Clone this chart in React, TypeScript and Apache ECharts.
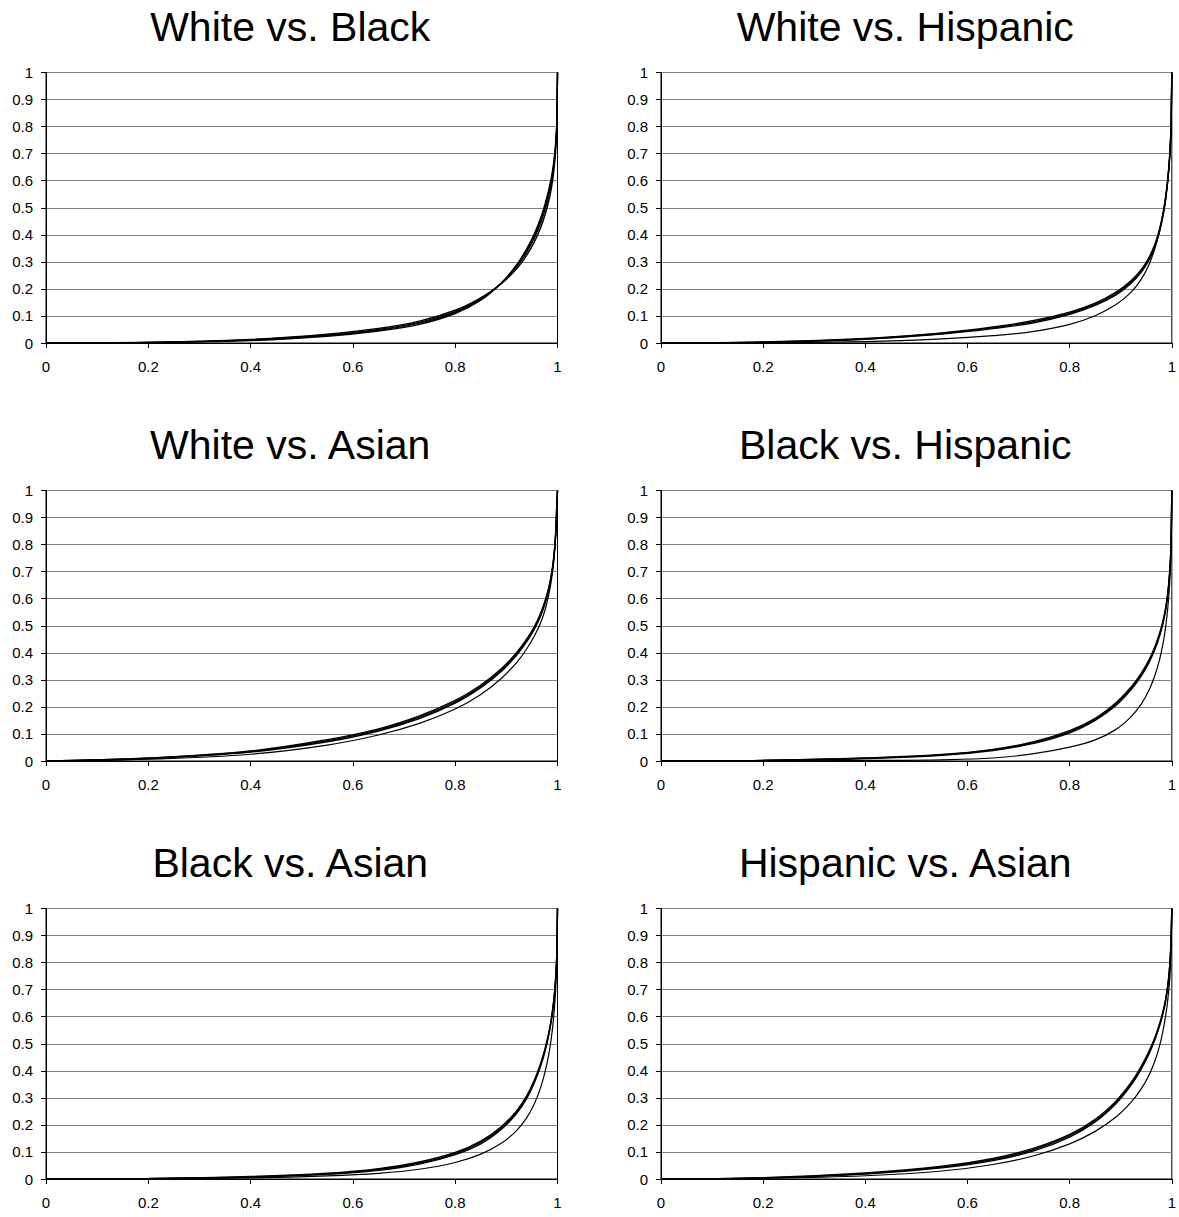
import React, { useEffect, useRef } from "react";
import * as echarts from "echarts";

// shared x positions (share of population), denser near 1 where the curves bend
const XS = [0, 0.2, 0.4, 0.55, 0.65, 0.73, 0.8, 0.85, 0.89, 0.92, 0.94, 0.955, 0.967, 0.976, 0.983, 0.988, 0.992, 0.995, 0.997, 0.9985, 1];
const X_TICKS = [0, 0.2, 0.4, 0.6, 0.8, 1];
const Y_TICKS = [0, 0.1, 0.2, 0.3, 0.4, 0.5, 0.6, 0.7, 0.8, 0.9, 1];

const TITLES = [
  "White vs. Black",
  "White vs. Hispanic",
  "White vs. Asian",
  "Black vs. Hispanic",
  "Black vs. Asian",
  "Hispanic vs. Asian",
];

// White vs. Black
const wb1 = [0, 0.0025, 0.0135, 0.033, 0.054, 0.081, 0.121, 0.167, 0.219, 0.274, 0.325, 0.375, 0.426, 0.476, 0.526, 0.572, 0.622, 0.678, 0.732, 0.792, 1];
const wb2 = [0, 0.002, 0.012, 0.03, 0.05, 0.076, 0.116, 0.163, 0.22, 0.281, 0.336, 0.389, 0.443, 0.495, 0.546, 0.591, 0.64, 0.693, 0.744, 0.801, 1];
const wb3 = [0, 0.0012, 0.009, 0.025, 0.044, 0.069, 0.109, 0.158, 0.222, 0.289, 0.349, 0.405, 0.462, 0.516, 0.568, 0.612, 0.66, 0.71, 0.758, 0.81, 1];
const wb4 = [0, 0.0018, 0.011, 0.028, 0.047, 0.073, 0.113, 0.161, 0.221, 0.285, 0.342, 0.397, 0.452, 0.505, 0.556, 0.6, 0.649, 0.7, 0.75, 0.805, 1];

// White vs. Hispanic
const wh1 = [0, 0.0035, 0.0165, 0.037, 0.059, 0.083, 0.114, 0.147, 0.187, 0.23, 0.271, 0.315, 0.366, 0.422, 0.483, 0.543, 0.607, 0.672, 0.734, 0.805, 1];
const wh2 = [0, 0.003, 0.015, 0.035, 0.056, 0.079, 0.11, 0.143, 0.182, 0.225, 0.266, 0.31, 0.361, 0.417, 0.478, 0.538, 0.603, 0.668, 0.73, 0.802, 1];
const wh3 = [0, 0.0025, 0.0135, 0.033, 0.053, 0.075, 0.106, 0.139, 0.177, 0.22, 0.261, 0.305, 0.356, 0.412, 0.473, 0.533, 0.599, 0.664, 0.726, 0.799, 1];
const wh4 = [0, 0.001, 0.005, 0.015, 0.027, 0.043, 0.069, 0.101, 0.141, 0.187, 0.235, 0.288, 0.351, 0.414, 0.474, 0.533, 0.598, 0.664, 0.727, 0.8, 1];

// White vs. Asian
const wa1 = [0, 0.011, 0.037, 0.079, 0.119, 0.167, 0.224, 0.281, 0.341, 0.401, 0.451, 0.498, 0.546, 0.594, 0.642, 0.689, 0.742, 0.802, 0.864, 0.938, 1];
const wa2 = [0, 0.01, 0.035, 0.075, 0.115, 0.162, 0.219, 0.276, 0.336, 0.396, 0.446, 0.493, 0.541, 0.589, 0.638, 0.685, 0.738, 0.799, 0.861, 0.936, 1];
const wa3 = [0, 0.009, 0.033, 0.071, 0.111, 0.157, 0.214, 0.271, 0.331, 0.391, 0.441, 0.488, 0.536, 0.584, 0.633, 0.681, 0.734, 0.796, 0.858, 0.934, 1];
const wa4 = [0, 0.007, 0.025, 0.059, 0.096, 0.139, 0.192, 0.246, 0.305, 0.364, 0.415, 0.463, 0.511, 0.561, 0.615, 0.668, 0.726, 0.789, 0.851, 0.929, 1];

// Black vs. Hispanic
const bh1 = [0, 0.0023, 0.011, 0.024, 0.043, 0.071, 0.112, 0.158, 0.214, 0.273, 0.324, 0.373, 0.423, 0.472, 0.521, 0.567, 0.62, 0.678, 0.736, 0.801, 1];
const bh2 = [0, 0.002, 0.01, 0.0225, 0.041, 0.068, 0.108, 0.154, 0.209, 0.268, 0.319, 0.368, 0.418, 0.467, 0.516, 0.563, 0.616, 0.675, 0.733, 0.799, 1];
const bh3 = [0, 0.0017, 0.009, 0.021, 0.039, 0.065, 0.104, 0.15, 0.204, 0.263, 0.314, 0.363, 0.413, 0.462, 0.511, 0.559, 0.612, 0.672, 0.73, 0.797, 1];
const bh4 = [0, 0.0003, 0.002, 0.0045, 0.011, 0.027, 0.051, 0.078, 0.116, 0.163, 0.21, 0.261, 0.317, 0.375, 0.437, 0.497, 0.564, 0.635, 0.703, 0.79, 1];

// Black vs. Asian
const ba1 = [0, 0.0017, 0.009, 0.021, 0.038, 0.063, 0.098, 0.14, 0.193, 0.252, 0.308, 0.367, 0.427, 0.485, 0.541, 0.594, 0.649, 0.706, 0.762, 0.824, 1];
const ba2 = [0, 0.0015, 0.008, 0.019, 0.035, 0.059, 0.094, 0.135, 0.188, 0.247, 0.303, 0.362, 0.422, 0.48, 0.537, 0.59, 0.646, 0.703, 0.759, 0.822, 1];
const ba3 = [0, 0.0013, 0.007, 0.017, 0.032, 0.055, 0.09, 0.13, 0.183, 0.242, 0.298, 0.357, 0.417, 0.475, 0.533, 0.586, 0.643, 0.7, 0.756, 0.82, 1];
const ba4 = [0, 0.0007, 0.004, 0.0115, 0.021, 0.036, 0.061, 0.092, 0.132, 0.179, 0.227, 0.279, 0.338, 0.399, 0.462, 0.522, 0.589, 0.656, 0.723, 0.804, 1];

// Hispanic vs. Asian
const ha1 = [0, 0.0045, 0.022, 0.047, 0.076, 0.114, 0.165, 0.221, 0.287, 0.356, 0.416, 0.471, 0.524, 0.574, 0.622, 0.667, 0.715, 0.768, 0.82, 0.886, 1];
const ha2 = [0, 0.004, 0.02, 0.044, 0.072, 0.109, 0.16, 0.216, 0.282, 0.351, 0.411, 0.466, 0.52, 0.57, 0.618, 0.663, 0.712, 0.765, 0.818, 0.884, 1];
const ha3 = [0, 0.0036, 0.018, 0.041, 0.068, 0.104, 0.155, 0.211, 0.277, 0.346, 0.406, 0.461, 0.516, 0.566, 0.614, 0.659, 0.709, 0.762, 0.816, 0.882, 1];
const ha4 = [0, 0.0025, 0.012, 0.0295, 0.0535, 0.086, 0.13, 0.176, 0.228, 0.283, 0.333, 0.383, 0.437, 0.492, 0.551, 0.605, 0.661, 0.718, 0.774, 0.84, 1];

const PANELS = [
  [wb1, wb2, wb3, wb4],
  [wh1, wh2, wh3, wh4],
  [wa1, wa2, wa3, wa4],
  [bh1, bh2, bh3, bh4],
  [ba1, ba2, ba3, ba4],
  [ha1, ha2, ha3, ha4],
];

const FONT = "'Liberation Sans', Arial, sans-serif";
const COL_LEFT = [46, 661];
const ROW_TOP = [72.5, 490.5, 908.5];
const PW = 511.5;
const PH = 270.5;

export default function App() {
  const ref = useRef<HTMLDivElement>(null);
  useEffect(() => {
    if (!ref.current) return;
    const chart = echarts.init(ref.current, undefined, { renderer: "svg" });
    const grids: any[] = [];
    const xAxes: any[] = [];
    const yAxes: any[] = [];
    const series: any[] = [];
    const graphics: any[] = [];
    PANELS.forEach((curves, i) => {
      const col = i % 2;
      const row = Math.floor(i / 2);
      const left = COL_LEFT[col];
      const top = ROW_TOP[row];
      grids.push({
        left,
        top,
        width: PW,
        height: PH,
        show: true,
        borderColor: "#000",
        borderWidth: 1,
        backgroundColor: "transparent",
      });
      xAxes.push({
        type: "value",
        gridIndex: i,
        min: 0,
        max: 1,
        interval: 0.2,
        axisLine: { show: true, lineStyle: { color: "#000", width: 1 } },
        axisTick: { show: true, length: 5, lineStyle: { color: "#000" } },
        splitLine: { show: false },
        axisLabel: {
          color: "#000",
          fontSize: 15,
          fontFamily: FONT,
          margin: 16,
          formatter: (v: number) => {
            const r = Math.round(v * 10) / 10;
            return X_TICKS.includes(r) ? String(r) : "";
          },
        },
      });
      yAxes.push({
        type: "value",
        gridIndex: i,
        min: 0,
        max: 1,
        interval: 0.1,
        axisLine: { show: true, lineStyle: { color: "#000", width: 1 } },
        axisTick: { show: true, length: 5, lineStyle: { color: "#000" } },
        splitLine: { show: true, lineStyle: { color: "#808080", width: 1 } },
        axisLabel: {
          color: "#000",
          fontSize: 15,
          fontFamily: FONT,
          margin: 13,
          formatter: (v: number) => {
            const r = Math.round(v * 10) / 10;
            return Y_TICKS.includes(r) ? String(r) : "";
          },
        },
      });
      curves.forEach((ys, k) => {
        series.push({
          type: "line",
          xAxisIndex: i,
          yAxisIndex: i,
          data: XS.map((x, j) => [x, ys[j]]),
          showSymbol: false,
          symbol: "none",
          smooth: 0.4,
          lineStyle: { color: "#000", width: k === 3 ? 1.2 : 1.4 },
          silent: true,
        });
      });
      graphics.push({
        type: "text",
        x: left + PW / 2 - 11.5,
        y: top - 46,
        style: {
          text: TITLES[i],
          fill: "#000",
          font: `41px ${FONT}`,
          textAlign: "center",
          textVerticalAlign: "middle",
        },
      });
    });
    chart.setOption({
      animation: false,
      backgroundColor: "#fff",
      grid: grids,
      xAxis: xAxes,
      yAxis: yAxes,
      series,
      graphic: graphics,
    });
    return () => chart.dispose();
  }, []);
  return (
    <div
      ref={ref}
      style={{ position: "absolute", left: 0, top: 0, width: 1179, height: 1217, background: "#fff" }}
    />
  );
}
